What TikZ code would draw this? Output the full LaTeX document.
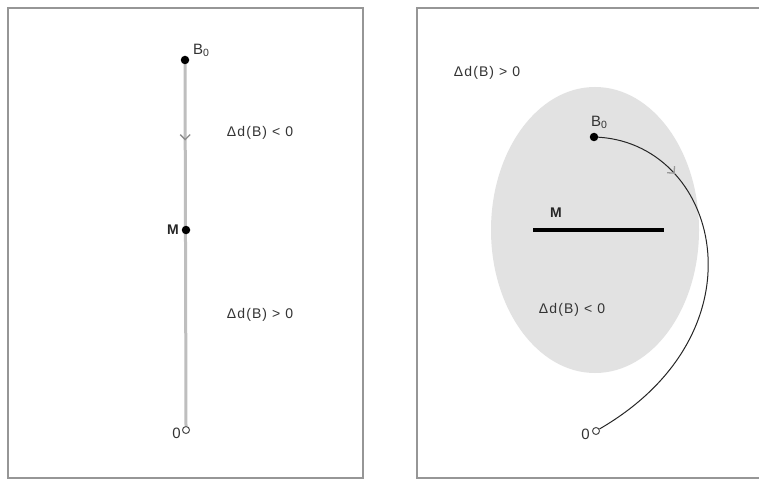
\documentclass[tikz,border=0pt]{standalone}
\usepackage{fontspec}
\setmainfont{Liberation Sans}
\newfontfamily\lblfont[LetterSpace=8]{Liberation Sans}
\usetikzlibrary{decorations.markings,arrows.meta}
\definecolor{framegray}{RGB}{150,150,150}
\definecolor{linegray}{RGB}{190,190,190}
\definecolor{fillgray}{RGB}{226,226,226}
\tikzset{
  frame/.style={draw=framegray,line width=2pt},
  lbl/.style={font=\lblfont\fontsize{14}{16}\selectfont,text=black!80,inner sep=0pt},
  big/.style={font=\fontsize{15}{17}\selectfont,text=black!80,inner sep=0pt},
  blbl/.style={font=\fontsize{14}{16}\selectfont\bfseries,text=black!85,inner sep=0pt},
  dot/.style={circle,fill=black,inner sep=0pt,minimum size=8.5pt},
  odot/.style={circle,draw=black!70,fill=white,line width=1pt,inner sep=0pt,minimum size=7pt},
  chev/.style 2 args={decoration={markings,mark=at position #1 with {\arrow[line width=1.3pt,#2]{Straight Barb[length=5pt,width=10pt]}}},postaction={decorate}}
}
\begin{document}
\begin{tikzpicture}[x=1pt,y=-1pt]
\useasboundingbox (0,0) rectangle (759,481);
\fill[white] (0,0) rectangle (759,481);
% frames
\draw[frame] (8,478) -- (8,8) -- (363,8) -- (363,478) -- cycle;
\draw[frame] (770,478) -- (417,478) -- (417,8) -- (770,8);
% left panel
\node[odot] (O) at (186,430) {};
\coordinate (B0c) at (185,60);
\draw[linegray,line width=3pt,chev={0.22}{black!45}] (B0c) -- (O.north);
\node[dot] (B0) at (B0c) {};
\node[dot] (M) at (186,230) {};
\node[big,anchor=south west] (lB0) at (193,57) {B\textsubscript{0}};
\node[blbl,anchor=east] (lM) at (179,230) {M};
\node[big,anchor=north east] (lO) at (181,428) {0};
\node[lbl] (t1) at (260,133) {Δd(B) < 0};
\node[lbl] (t2) at (260,315) {Δd(B) > 0};
% right panel
\fill[fillgray] (595,230) ellipse [x radius=104, y radius=143];
\node[lbl] (t3) at (487,73) {Δd(B) > 0};
\node[odot] (Or) at (596,431) {};
\coordinate (B0rc) at (594,137);
\draw[black!85,line width=1pt,chev={0.23}{black!40}] (B0rc) .. controls (718,140) and (770,330) .. (Or);
\node[dot] (B0r) at (B0rc) {};
\coordinate (Ma) at (533,230);
\coordinate (Mb) at (664,230);
\draw[black,line width=4pt] (Ma) -- (Mb);
\node[blbl] (lMr) at (556,213) {M};
\node[big,anchor=south west] (lB0r) at (591,129) {B\textsubscript{0}};
\node[big,anchor=north east] (lOr) at (590,429) {0};
\node[lbl] (t4) at (572,310) {Δd(B) < 0};
\end{tikzpicture}
\end{document}
